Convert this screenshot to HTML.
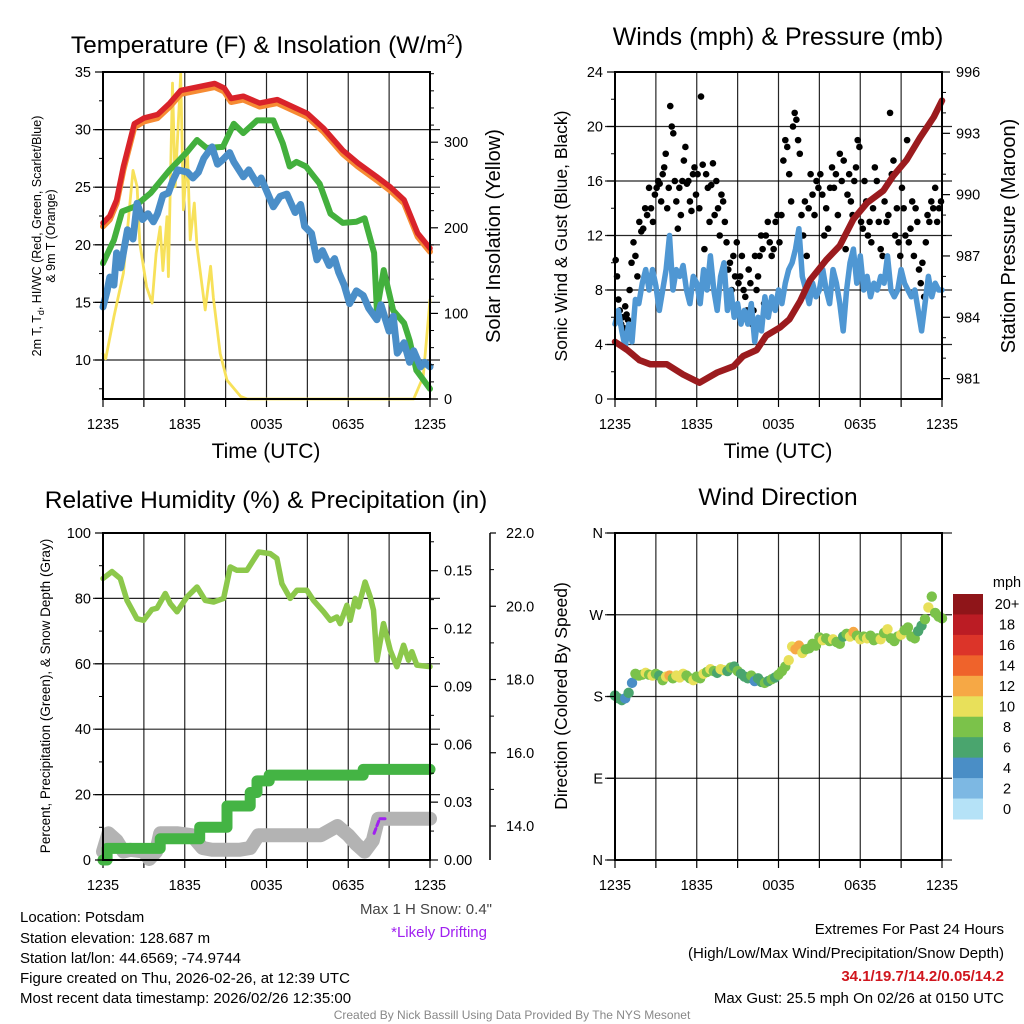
<!DOCTYPE html>
<html><head><meta charset="utf-8"><style>
html,body{margin:0;padding:0;background:#fff;}
svg{display:block;font-family:"Liberation Sans",sans-serif;}
</style></head><body>
<svg id="fig" width="1024" height="1024" viewBox="0 0 1024 1024">
<g id="titles">
<text x="267" y="53" font-size="24.5" text-anchor="middle">Temperature (F) &amp; Insolation (W/m<tspan dy="-9" font-size="15">2</tspan><tspan dy="9">)</tspan></text>
<text x="778" y="45" font-size="25" text-anchor="middle">Winds (mph) &amp; Pressure (mb)</text>
<text x="266" y="508" font-size="24.5" text-anchor="middle">Relative Humidity (%) &amp; Precipitation (in)</text>
<text x="778" y="505" font-size="24.5" text-anchor="middle">Wind Direction</text>
<text x="266" y="458" font-size="21" text-anchor="middle">Time (UTC)</text>
<text x="778" y="458" font-size="21" text-anchor="middle">Time (UTC)</text>
<text transform="translate(41,236) rotate(-90)" font-size="12.5" text-anchor="middle">2m T, T<tspan dy="3" font-size="9">d</tspan><tspan dy="-3">, HI/WC (Red, Green, Scarlet/Blue)</tspan></text>
<text transform="translate(55,236) rotate(-90)" font-size="12.5" text-anchor="middle">&amp; 9m T (Orange)</text>
<text transform="translate(500,236) rotate(-90)" font-size="20" text-anchor="middle">Solar Insolation (Yellow)</text>
<text transform="translate(567,236) rotate(-90)" font-size="17.5" text-anchor="middle">Sonic Wind &amp; Gust (Blue, Black)</text>
<text transform="translate(1015,236) rotate(-90)" font-size="20" text-anchor="middle">Station Pressure (Maroon)</text>
<text transform="translate(50,696) rotate(-90)" font-size="13.5" text-anchor="middle">Percent, Precipitation (Green), &amp; Snow Depth (Gray)</text>
<text transform="translate(567,696) rotate(-90)" font-size="17.5" text-anchor="middle">Direction (Colored By Speed)</text>
</g>
<g id="footer" font-size="15">
<text x="20" y="922">Location: Potsdam</text>
<text x="20" y="943">Station elevation: 128.687 m</text>
<text x="20" y="963">Station lat/lon: 44.6569; -74.9744</text>
<text x="20" y="983">Figure created on Thu, 2026-02-26, at 12:39 UTC</text>
<text x="20" y="1003">Most recent data timestamp: 2026/02/26 12:35:00</text>
<text x="492" y="914" text-anchor="end" fill="#444">Max 1 H Snow: 0.4"</text>
<text x="487" y="937" text-anchor="end" fill="#a020f0">*Likely Drifting</text>
<text x="1004" y="934" text-anchor="end">Extremes For Past 24 Hours</text>
<text x="1004" y="958" text-anchor="end">(High/Low/Max Wind/Precipitation/Snow Depth)</text>
<text x="1004" y="981" text-anchor="end" fill="#d0161e" font-weight="bold">34.1/19.7/14.2/0.05/14.2</text>
<text x="1004" y="1003" text-anchor="end">Max Gust: 25.5 mph On 02/26 at 0150 UTC</text>
<text x="512" y="1019" text-anchor="middle" font-size="12" fill="#888">Created By Nick Bassill Using Data Provided By The NYS Mesonet</text>
</g>
</svg>
<script>
// ---------- DATA ----------
const timeLabels = ["1235","1835","0035","0635","1235"];
// Panel 1
const redT = [0,0.5,1,1.5,2.3,3,4,4.9,5.7,8.2,8.9,9.4,10.3,11.5,12.8,15,16.2,17.6,18.7,20.1,21.1,22.1,23.1,24];
const redV = [21.9,22.5,23.9,26.8,30.5,31.0,31.3,32.3,33.4,34.0,33.6,32.7,32.9,32.3,32.6,31.4,30.1,28.2,27.1,25.9,25.0,23.9,21.0,19.7];
const greenT = [0,0.8,1.4,2.3,3.5,4.9,6.2,6.9,7.6,8.8,9.6,10.3,11.3,12.5,13.2,13.7,14.2,14.9,15.9,16.7,17.6,18.6,19.2,19.9,20.1,20.6,21.3,22.1,22.5,23.0,24];
const greenV = [18.4,20.4,22.9,23.3,24.5,26.5,28.1,29.1,28.4,28.5,30.5,29.7,30.8,30.8,28.8,26.8,27.2,26.8,25.3,22.7,21.9,22.0,22.3,19.3,14.3,17.8,14.3,13.2,11.7,9.1,7.5];
const blueT = [0,0.3,0.5,0.8,1.0,1.3,1.8,2.2,2.5,2.9,3.3,3.7,4.0,4.4,4.8,5.1,5.5,6.2,6.6,7.0,7.4,8.0,8.4,8.8,9.3,9.6,10.3,10.7,11.3,11.6,12.5,13.0,13.5,14.1,14.5,14.8,15.3,15.7,16.1,16.6,17.0,17.3,17.7,18.1,18.6,19.1,19.5,20.1,20.4,21.0,21.3,21.6,22.1,22.5,22.8,23.3,23.6,24];
const blueV = [14.6,16.0,17.2,16.5,19.3,18.0,21.3,20.5,23.6,22.2,22.7,22.0,22.7,24.3,24.5,25.5,26.5,26.3,25.8,26.3,27.5,28.5,27.0,27.4,28.0,27.2,25.9,26.5,25.3,25.8,23.3,24.2,24.4,22.8,23.5,21.6,21.0,18.7,19.5,18.2,18.8,17.6,16.5,14.9,16.0,15.6,14.5,13.5,14.8,12.5,13.8,10.6,11.5,9.8,10.8,9.4,9.8,9.4];
const solarT = [0,0.2,0.8,1.5,2.2,2.5,2.7,3.2,3.6,3.9,4.2,4.4,4.7,4.8,5.1,5.3,5.7,5.9,6.2,6.4,6.7,6.9,7.5,7.9,8.1,8.6,9.1,10.1,10.6,22.8,23.5,24];
const solarV = [53,47,96,147,267,248,182,131,112,170,201,150,213,143,369,248,380,221,287,186,229,178,104,155,118,53,22,3,0,0,26,116];
// Panel 2
const windSpeed = [5.5,6.5,5.0,3.8,5.5,4.2,7.3,7.0,8.5,9.5,8.0,9.5,8.3,6.5,8.0,9.5,12.0,8.0,9.5,9.0,9.8,8.0,7.0,9.0,8.5,7.0,9.5,8.0,10.5,8.0,6.5,9.0,10.0,6.5,8.0,6.0,7.0,5.5,6.5,5.5,7.0,4.2,6.0,5.0,7.5,6.0,7.5,6.5,8.0,7.0,8.5,9.5,10.0,11.0,12.5,9.0,8.0,7.0,8.5,7.5,8.0,9.5,8.0,7.0,9.5,8.5,7.0,5.0,8.0,10.0,11.0,8.5,10.5,8.0,9.0,7.5,8.5,8.0,9.0,8.5,10.5,8.0,7.5,8.0,9.5,8.5,8.0,7.5,8.0,6.5,5.0,7.0,9.0,7.5,8.5,8.0,8.0];
const gustByHour = [
 [10.2,9.0,7.3,6.5,5.5,6.0,5.2,6.8,6.2,5.8],[8.0,10.0,11.5,10.5,9.0,13.0,12.3],[12.5,14.0,13.5,15.5,14.0,13.0,15.0],
 [15.5,16.0,15.8,14.5,16.5,17.0,18.0,14.0,15.5],[21.5,20.0,19.5,16.0,14.5,12.5,15.5,13.5,16.0],[17.5,18.5,15.8,16.0,14.5,13.8,16.5,17.0,15.0],
 [16.5,14.0,22.2,17.2,11.0,16.5,15.5,13.0],[15.7,17.3,13.5,16.0,14.0,12.0,15.0,14.5],[13.0,11.5,9.5,10.0,8.0,10.5,9.0,11.5],
 [8.5,9.0,10.5,8.0,7.5,6.5,9.5,8.5],[5.5,6.5,10.5,8.0,9.0,10.5,12.0,11.0,7.0],[12.0,13.0,11.5,10.5,11.0,13.0,13.5],
 [11.5,13.5,17.5,19.0,18.5,16.5,14.5],[20.0,21.0,20.5,19.0,18.0,13.5,12.0,14.5],[10.5,14.0,16.5,15.0,13.5,16.0,15.5],
 [16.5,15.0,12.0,14.0,12.5,15.5,17.0],[15.5,16.5,13.5,18.0,16.0,17.5,11.0],[15.0,16.5,14.5,13.5,16.0,17.0,19.0,18.5],
 [13.0,12.5,16.0,14.5,12.0,13.0,11.5,14.0],[17.0,16.0,13.0,11.0,10.5,14.5,13.0],[13.5,21.0,16.5,17.5,12.0,14.0,11.5,10.5],
 [15.5,14.0,12.0,19.0,11.5,12.5,14.5,10.5],[14.0,13.0,9.5,8.5,10.0,7.5,11.5,13.5],[13.0,14.5,14.0,15.5,13.0,14.0,14.5]];
const presT = [0,0.9,1.8,2.6,3.8,5.0,6.2,7.5,8.7,9.4,10.4,11.1,12.1,12.8,13.6,14.3,15.5,16.5,17.5,18.5,19.7,20.4,21.4,22.4,23.4,24];
const presV = [982.8,982.4,981.9,981.7,981.7,981.2,980.8,981.3,981.6,982.1,982.4,983.1,983.5,983.9,984.8,985.8,986.8,987.5,988.8,989.6,990.2,990.9,991.7,992.8,993.8,994.6];
// Panel 3
const rhT = [0,0.66,1.27,1.76,2.49,2.98,3.59,3.96,4.57,4.94,5.43,6.17,6.9,7.51,8.12,8.85,9.34,9.83,10.56,11.42,12.27,12.76,13.13,13.74,14.23,14.96,15.45,16.19,16.68,17.17,17.41,17.9,18.14,18.51,18.75,19.24,19.61,19.85,20.1,20.59,21.08,21.57,22.06,22.42,22.67,23.03,24];
const rhV = [86.1,88.2,86.1,79.4,73.8,73.3,76.6,77.0,81.5,78.4,75.9,80.5,83.5,79.4,78.9,80.0,89.6,88.6,88.6,94.2,93.7,92.2,84.5,80.0,82.5,82.5,79.4,75.9,73.3,74.3,72.3,77.9,73.3,80.0,77.4,85.0,80.5,76.4,61.1,72.3,64.2,59.1,65.7,61.1,63.7,59.6,59.1];
const precipT = [0,0.3,4.2,7.1,9.1,10.8,11.3,12.2,19.1,24];
const precipV = [0,0.006,0.011,0.017,0.028,0.035,0.041,0.044,0.047,0.047];
const snowT = [0,0.4,1.0,1.5,2,3,3.4,3.9,4.2,5.5,6.5,7.3,8,10,10.8,11.4,13,16,17.2,18,18.6,19.2,19.8,20.2,24];
const snowV = [13.3,13.8,13.6,13.3,13.35,13.3,13.1,13.3,13.8,13.8,13.75,13.4,13.35,13.35,13.4,13.75,13.75,13.75,14.0,13.75,13.5,13.3,13.6,14.2,14.2];
const driftT = [19.9,20.3,20.9];
const driftV = [13.8,14.2,14.2];
// Panel 4
const windDir = [181,178,176,178,184,195,205,203,204,206,204,203,205,203,198,202,203,200,203,201,205,203,200,198,202,200,205,207,210,208,206,210,209,208,212,213,208,205,202,200,203,197,200,196,195,197,199,201,204,208,213,220,235,232,236,228,232,233,238,236,245,242,244,241,243,240,238,246,249,246,251,247,243,246,244,247,242,244,243,250,254,244,241,246,248,253,256,246,244,252,258,265,278,290,272,268,266];
const speedBins = ["0","2","4","6","8","10","12","14","16","18","20+"];
const binColors = ["#b5e2f7","#7db8e3","#4a8ec6","#4aa56e","#7bc24a","#e8e05a","#f6a845","#ef632b","#dc3429","#bb1c24","#8f1519"];

// ---------- DRAW ----------
const NS = "http://www.w3.org/2000/svg";
const svg = document.getElementById("fig");
function mk(tag, attrs, parent){const e=document.createElementNS(NS,tag);for(const k in attrs)e.setAttribute(k,attrs[k]);(parent||svg).appendChild(e);return e;}
function lin(d0,d1,r0,r1){return v=>r0+(v-d0)/(d1-d0)*(r1-r0);}
function pathD(ts,vs,sx,sy,step){let d="";for(let i=0;i<ts.length;i++){const x=sx(ts[i]).toFixed(1),y=sy(vs[i]).toFixed(1);if(i===0)d+="M"+x+","+y;else if(step)d+="H"+x+"V"+y;else d+="L"+x+","+y;}return d;}

function frame(name,x0,x1,y0,y1,hLines){
  const g=mk("g",{});
  
  
  const sx=lin(0,24,x0,x1);
  for(let h=3;h<24;h+=3){const l=mk("line",{x1:sx(h),x2:sx(h),y1:y0,y2:y1,stroke:"#000","stroke-width":1.2,"stroke-opacity":0.85},g);
    
    }
  hLines.forEach(y=>{const l=mk("line",{x1:x0-10,x2:x1+10,y1:y,y2:y,stroke:"#000","stroke-width":1.2,"stroke-opacity":0.85},g);
    
    });
  for(let h=0;h<=24;h+=3){const t=mk("line",{x1:sx(h),x2:sx(h),y1:y1,y2:y1+8,stroke:"#000","stroke-width":1.2},g);
    
    }
  timeLabels.forEach((lab,i)=>{const t=mk("text",{x:sx(i*6),y:y1+30,"font-size":14.5,"text-anchor":"middle"},g);t.textContent=lab;
    
    });
  return {g,sx};
}
function border(x0,x1,y0,y1,name){const r=mk("rect",{x:x0,y:y0,width:x1-x0,height:y1-y0,fill:"none",stroke:"#000","stroke-width":2});
  
  }
function yTicks(vals,sy,x,side,fmt,minor,name){
  vals.forEach(v=>{const y=sy(v);mk("line",{x1:x,x2:x+(side<0?-8:8),y1:y,y2:y,stroke:"#000","stroke-width":1.2});
    const t=mk("text",{x:x+(side<0?-12:14),y:y+5,"font-size":14.5,"text-anchor":side<0?"end":"start"});t.textContent=fmt(v);
    
    });
  (minor||[]).forEach(v=>{const y=sy(v);mk("line",{x1:x,x2:x+(side<0?-4:4),y1:y,y2:y,stroke:"#000","stroke-width":1});});
}
function series(d,attrs,name){const p=mk("path",Object.assign({d:d,fill:"none","stroke-linejoin":"round","stroke-linecap":"round"},attrs));
  
  return p;}

// Panel 1
(function(){
  const X0=103,X1=430,Y0=72,Y1=399;
  const sy=lin(35,35-(Y1-Y0)/11.52,Y0,Y1), sr=lin(0,382,Y1,Y0);
  const f=frame("temperature",X0,X1,Y0,Y1,[30,25,20,15,10].map(sy));
  const sx=f.sx;
  series(pathD(solarT,solarV,sx,sr),{stroke:"#f7e15a","stroke-width":2.8},"solar-insolation-line");
  series(pathD(greenT,greenV,sx,sy),{stroke:"#43b03d","stroke-width":6},"dewpoint-line");
  series(pathD(blueT,blueV,sx,sy),{stroke:"#4a8ec8","stroke-width":7},"windchill-line");
  series(pathD(redT,redV.map(v=>v-0.3),sx,sy),{stroke:"#f68b33","stroke-width":6},"temp-9m-line");
  series(pathD(redT,redV,sx,sy),{stroke:"#d9232a","stroke-width":5.5},"temp-2m-line");
  border(X0,X1,Y0,Y1,"temperature");
  yTicks([35,30,25,20,15,10],sy,X0,-1,v=>v,[32.5,27.5,22.5,17.5,12.5,7.5],"temp-y");
  yTicks([0,100,200,300],sr,X1,1,v=>v,[20,40,60,80,120,140,160,180,220,240,260,280,320,340,360,380],"solar-y");
})();
// Panel 2
(function(){
  const X0=615,X1=942,Y0=72,Y1=399;
  const sy=lin(0,24,Y1,Y0), sp=lin(996,996-(Y1-Y0)/20.44,Y0,Y1);
  const f=frame("winds",X0,X1,Y0,Y1,[20,16,12,8,4].map(sy));
  const sx=f.sx;
  const wt=windSpeed.map((v,i)=>i*0.25);
  gustByHour.forEach((arr,h)=>arr.forEach((v,i)=>{
    const c=mk("circle",{cx:sx(h+(i+0.5)/arr.length),cy:sy(v),r:3.3,fill:"#000"});
    
    
  }));
  series(pathD(wt,windSpeed,sx,sy),{stroke:"#4f97d3","stroke-width":5.5},"sonic-wind-line");
  series(pathD(presT,presV,sx,sp),{stroke:"#9b1b1e","stroke-width":6.5},"pressure-line");
  border(X0,X1,Y0,Y1,"winds");
  yTicks([24,20,16,12,8,4,0],sy,X0,-1,v=>v,[22,18,14,10,6,2],"wind-y");
  yTicks([996,993,990,987,984,981],sp,X1,1,v=>v,[995,994,992,991,989,988,986,985,983,982],"pressure-y");
})();
// Panel 3
(function(){
  const X0=103,X1=430,Y0=533,Y1=860;
  const sy=lin(0,100,Y1,Y0), sp=lin(0,0.15,Y1,570.7), ss=lin(14,22,826,533);
  const f=frame("humidity",X0,X1,Y0,Y1,[80,60,40,20].map(sy));
  const sx=f.sx;
  series(pathD(snowT,snowV,sx,ss),{stroke:"#b3b3b3","stroke-width":14},"snow-depth-line");
  series(pathD(driftT,driftV,sx,ss),{stroke:"#a020f0","stroke-width":3,"stroke-dasharray":"5 3"},"drifting-segment");
  series(pathD(precipT,precipV,sx,sp,true),{stroke:"#44b444","stroke-width":11},"precipitation-line");
  series(pathD(rhT,rhV,sx,sy),{stroke:"#8cc84b","stroke-width":5.5},"relative-humidity-line");
  border(X0,X1,Y0,Y1,"humidity");
  yTicks([100,80,60,40,20,0],sy,X0,-1,v=>v,[90,70,50,30,10],"humidity-y");
  yTicks([0,0.03,0.06,0.09,0.12,0.15],sp,X1,1,v=>v.toFixed(2),[0.015,0.045,0.075,0.105,0.135,0.165],"precip-y");
  const ax=mk("line",{x1:490,x2:490,y1:533,y2:860,stroke:"#000","stroke-width":1.5});
  
  
  [22,20,18,16,14].forEach(v=>{const y=ss(v);mk("line",{x1:490,x2:496,y1:y,y2:y,stroke:"#000","stroke-width":1.2});
    const t=mk("text",{x:506,y:y+5,"font-size":14.5});t.textContent=v.toFixed(1);
    
    });
  [21,19,17,15].forEach(v=>{const y=ss(v);mk("line",{x1:490,x2:494,y1:y,y2:y,stroke:"#000"});});
})();
// Panel 4
(function(){
  const X0=615,X1=942,Y0=533,Y1=860;
  const sy=lin(0,360,Y1,Y0);
  const f=frame("direction",X0,X1,Y0,Y1,[360,270,180,90,0].map(sy));
  const sx=f.sx;
  windDir.forEach((d,i)=>{
    const bin=Math.min(10,Math.max(0,Math.round(windSpeed[i]/2)));
    const c=mk("circle",{cx:sx(i*0.25),cy:sy(d),r:5.2,fill:binColors[bin]});
    
    
  });
  border(X0,X1,Y0,Y1,"direction");
  yTicks([360,270,180,90,0],sy,X0,-1,v=>({0:"N",90:"E",180:"S",270:"W",360:"N"})[v],[],"direction-y");
  const lg=mk("g",{});
  
  
  const t=mk("text",{x:1007,y:587,"font-size":14.5,"text-anchor":"middle"},lg);t.textContent="mph";
  const bh=(819-594)/11;
  speedBins.forEach((lab,i)=>{
    const k=10-i, y=594+i*bh;
    const r=mk("rect",{x:953,y:y,width:30,height:bh+0.5,fill:binColors[k]},lg);
    
    
    const tx=mk("text",{x:1007,y:y+bh/2+5,"font-size":14.5,"text-anchor":"middle"},lg);tx.textContent=speedBins[k];
    
    
  });
})();
</script>
</body></html>
